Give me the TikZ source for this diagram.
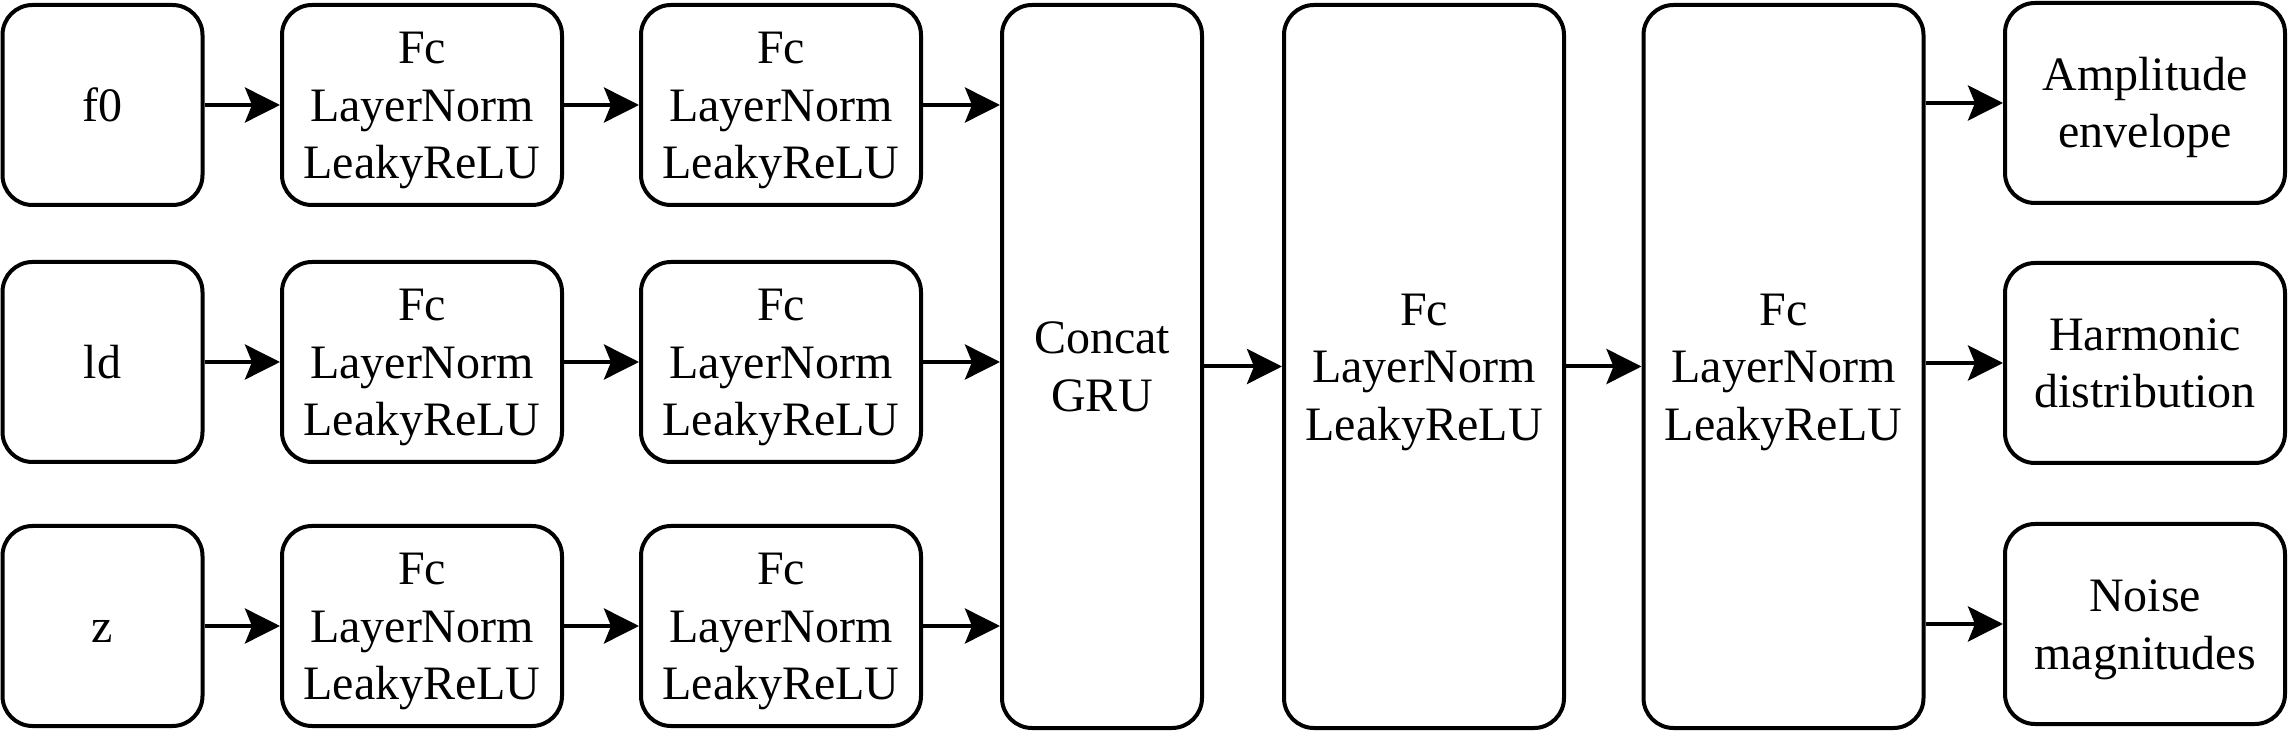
\documentclass[tikz,border=0pt]{standalone}
\usepackage{fontspec}
\setmainfont{Liberation Serif}
\usepackage{tikz}
\usetikzlibrary{calc,arrows.meta}
\newcommand{\linestrut}{\rule[-6.3pt]{0pt}{28.8pt}}
\newcommand{\fclayer}{\linestrut Fc\\LayerNorm\\LeakyReLU\linestrut}

\tikzset{
    blk/.style={draw, line width=2pt, rounded corners=15pt, inner sep=0pt,
        align=center, font=\fontsize{24pt}{28.8pt}\selectfont},
    smallblk/.style={blk, minimum width=100pt, minimum height=100pt},
    fcblk/.style={blk, minimum width=140pt, minimum height=100pt},
    tallblk/.style={blk, minimum height=361.5pt},
    link/.style={line width=2pt, -{Stealth[length=17.5pt, width=17.5pt, inset=3.5pt]}}
}

\begin{document}
\begin{tikzpicture}
    \useasboundingbox (0,0) rectangle (1144pt,-366pt);
    % inputs
    \node[smallblk] (fzero) at (51.25pt,-52.5pt) {\linestrut f0};
    \node[smallblk] (ld) at (51.25pt,-181pt) {\linestrut ld};
    \node[smallblk] (z) at (51.25pt,-313pt) {\linestrut z};
    % two fc stages per input
    \foreach \n/\y in {fzero/-52.5, ld/-181, z/-313}{
        \node[fcblk] (\n one) at (211pt,\y pt) {\fclayer};
        \node[fcblk] (\n two) at (390.5pt,\y pt) {\fclayer};
    }
    \node[tallblk, minimum width=100pt] (gru) at (551pt,-183.25pt) {\linestrut Concat\\GRU\linestrut};
    \node[tallblk, minimum width=140pt] (fcc) at (712pt,-183.25pt) {\fclayer};
    \node[tallblk, minimum width=140pt] (fcd) at (891.75pt,-183.25pt) {\fclayer};
    % outputs
    \node[fcblk] (amp) at (1072.5pt,-51.5pt) {\linestrut Amplitude\\envelope\linestrut};
    \node[fcblk] (harm) at (1072.5pt,-181.5pt) {\linestrut Harmonic\\distribution\linestrut};
    \node[fcblk] (noise) at (1072.5pt,-312pt) {\linestrut Noise\\magnitudes\linestrut};

    \foreach \n in {fzero, ld, z}{
        \draw[link] (\n) -- (\n one);
        \draw[link] (\n one) -- (\n two);
        \draw[link] (\n two.east) -- (\n two.east -| gru.west);
    }
    \draw[link] (gru) -- (fcc);
    \draw[link] (fcc) -- (fcd);
    \foreach \n in {amp, harm, noise}
        \draw[link] (fcd.east |- \n) -- (\n.west);
\end{tikzpicture}
\end{document}
